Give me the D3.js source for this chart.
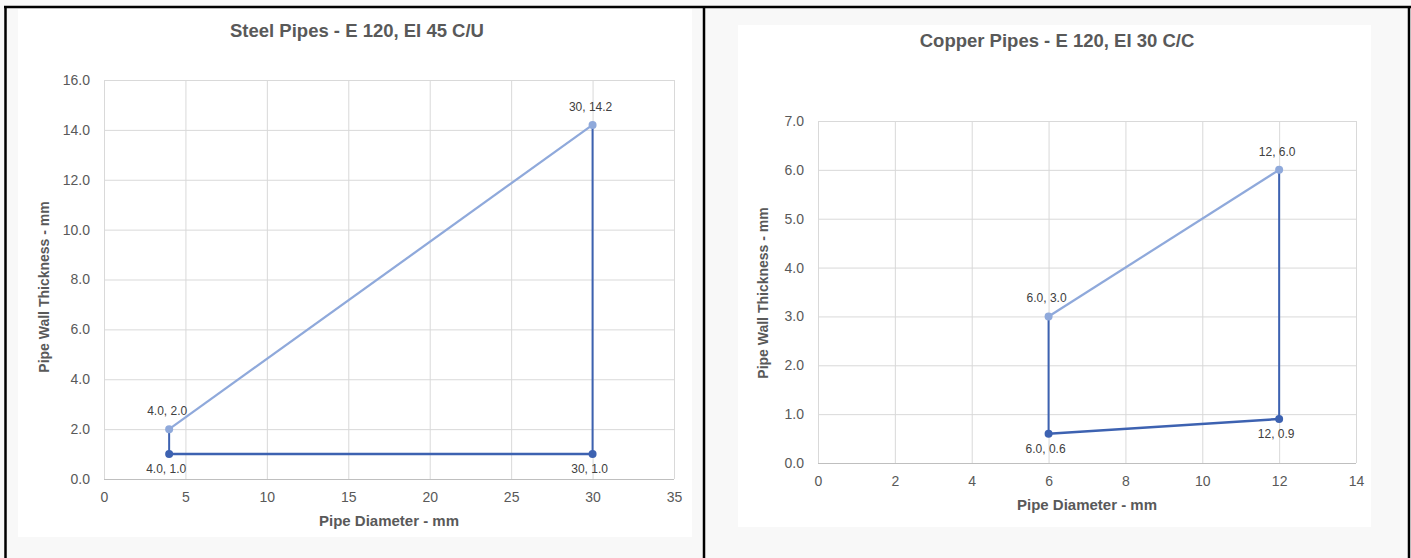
<!DOCTYPE html>
<html><head><meta charset="utf-8">
<script src="https://cdn.jsdelivr.net/npm/d3@7"></script>
<style>
body{margin:0;background:#fff;}
svg{display:block;font-family:"Liberation Sans",Arial,sans-serif;}
</style></head>
<body>
<svg id="c" width="1411" height="558"></svg>
<script>
// ---- data ----
const steelTitle = "Steel Pipes - E 120, EI 45 C/U";
const steelXTicks = [0,5,10,15,20,25,30,35];
const steelYTicks = [0,2,4,6,8,10,12,14,16];
const steelUpperX = [4, 30];
const steelUpperY = [2.0, 14.2];
const steelUpperLabels = ["4.0, 2.0", "30, 14.2"];
const steelLowerX = [4, 30];
const steelLowerY = [1.0, 1.0];
const steelLowerLabels = ["4.0, 1.0", "30, 1.0"];

const copperTitle = "Copper Pipes - E 120, EI 30 C/C";
const copperXTicks = [0,2,4,6,8,10,12,14];
const copperYTicks = [0,1,2,3,4,5,6,7];
const copperUpperX = [6, 12];
const copperUpperY = [3.0, 6.0];
const copperUpperLabels = ["6.0, 3.0", "12, 6.0"];
const copperLowerX = [6, 12];
const copperLowerY = [0.6, 0.9];
const copperLowerLabels = ["6.0, 0.6", "12, 0.9"];

const xTitle = "Pipe Diameter - mm";
const yTitle = "Pipe Wall Thickness - mm";

// ---- styling ----
const LIGHT = "#8FA9DB", DARK = "#3D62B1";
const TXT = "#595959", LBL = "#404040", GRID = "#d9d9d9";

const svg = d3.select("#c");
svg.append("rect").attr("width",1411).attr("height",558).attr("fill","#f8f8f8");

function panel(o){
  const g = svg.append("g");
  g.append("rect").attr("x",o.bg[0]).attr("y",o.bg[1]).attr("width",o.bg[2]).attr("height",o.bg[3]).attr("fill","#fff");
  const x = d3.scaleLinear().domain([o.xTicks[0], o.xTicks[o.xTicks.length-1]]).range([o.left,o.right]);
  const y = d3.scaleLinear().domain([o.yTicks[0], o.yTicks[o.yTicks.length-1]]).range([o.bottom,o.top]);
  g.append("g").selectAll("line").data(o.xTicks).join("line")
    .attr("x1",d=>x(d)+0.5).attr("x2",d=>x(d)+0.5).attr("y1",o.top).attr("y2",o.bottom)
    .attr("stroke",GRID).attr("stroke-width",1);
  g.append("g").selectAll("line").data(o.yTicks).join("line")
    .attr("y1",d=>y(d)+0.5).attr("y2",d=>y(d)+0.5).attr("x1",o.left).attr("x2",o.right)
    .attr("stroke",d=>d===0?"#bfbfbf":GRID).attr("stroke-width",1);
  const xa = g.append("g").attr("transform",`translate(0,${o.bottom})`)
    .call(d3.axisBottom(x).tickValues(o.xTicks).tickFormat(d3.format("d")).tickSize(0).tickPadding(13));
  const ya = g.append("g").attr("transform",`translate(${o.left},0)`)
    .call(d3.axisLeft(y).tickValues(o.yTicks).tickFormat(d3.format(".1f")).tickSize(0).tickPadding(14));
  [xa,ya].forEach(a=>{a.select(".domain").remove();
    a.selectAll("text").attr("fill",TXT).style("font-size","14px").style("font-family","Liberation Sans, Arial, sans-serif");});
  g.append("text").attr("x",o.titleX).attr("y",o.titleY).attr("text-anchor","middle")
    .attr("fill",TXT).style("font-size","18.5px").style("font-weight","bold").text(o.title);
  g.append("text").attr("x",(o.left+o.right)/2).attr("y",o.bottom+47).attr("text-anchor","middle")
    .attr("fill",TXT).style("font-size","15px").style("font-weight","bold").text(xTitle);
  g.append("text").attr("transform",`translate(${o.yTitleX},${o.yTitleY}) rotate(-90)`)
    .attr("text-anchor","middle").attr("fill",TXT).style("font-size","14px").style("font-weight","bold").text(yTitle);

  const line = d3.line().x(d=>x(d[0])).y(d=>y(d[1]));
  const up = o.ux.map((v,i)=>[v,o.uy[i]]);
  const lo = o.lx.map((v,i)=>[v,o.ly[i]]);
  g.append("path").attr("d",line([up[0],lo[0]])).attr("fill","none").attr("stroke",DARK).attr("stroke-width",2);
  g.append("path").attr("d",line([lo[1],up[1]])).attr("fill","none").attr("stroke",DARK).attr("stroke-width",2);
  g.append("path").attr("d",line(lo)).attr("fill","none").attr("stroke",DARK).attr("stroke-width",2.5);
  g.append("path").attr("d",line(up)).attr("fill","none").attr("stroke",LIGHT).attr("stroke-width",2.25);
  g.selectAll("circle.u").data(up).join("circle").attr("cx",d=>x(d[0])).attr("cy",d=>y(d[1])).attr("r",4).attr("fill",LIGHT);
  g.selectAll("circle.l").data(lo).join("circle").attr("cx",d=>x(d[0])).attr("cy",d=>y(d[1])).attr("r",4).attr("fill",DARK);
  g.selectAll("text.ul").data(up).join("text").attr("x",d=>x(d[0])-2).attr("y",d=>y(d[1])-14)
    .attr("text-anchor","middle").attr("fill",LBL).style("font-size","12px").text((d,i)=>o.ul[i]);
  g.selectAll("text.ll").data(lo).join("text").attr("x",d=>x(d[0])-3).attr("y",d=>y(d[1])+19)
    .attr("text-anchor","middle").attr("fill",LBL).style("font-size","12px").text((d,i)=>o.ll[i]);
}

panel({title:steelTitle,titleX:357,titleY:37,bg:[18,9,674,528],
  left:104,right:674,top:80,bottom:479,yTitleX:49,yTitleY:287,
  xTicks:steelXTicks,yTicks:steelYTicks,
  ux:steelUpperX,uy:steelUpperY,ul:steelUpperLabels,lx:steelLowerX,ly:steelLowerY,ll:steelLowerLabels});
panel({title:copperTitle,titleX:1057,titleY:47,bg:[738,25,633,502],
  left:818,right:1356,top:121,bottom:463,yTitleX:768,yTitleY:293,
  xTicks:copperXTicks,yTicks:copperYTicks,
  ux:copperUpperX,uy:copperUpperY,ul:copperUpperLabels,lx:copperLowerX,ly:copperLowerY,ll:copperLowerLabels});

svg.append("line").attr("x1",4).attr("x2",1411).attr("y1",7).attr("y2",7).attr("stroke","#000").attr("stroke-width",2.5);
[5.5,704,1409].forEach(xx=>svg.append("line").attr("x1",xx).attr("x2",xx).attr("y1",6).attr("y2",558).attr("stroke","#000").attr("stroke-width",2.5));
</script>
</body></html>
